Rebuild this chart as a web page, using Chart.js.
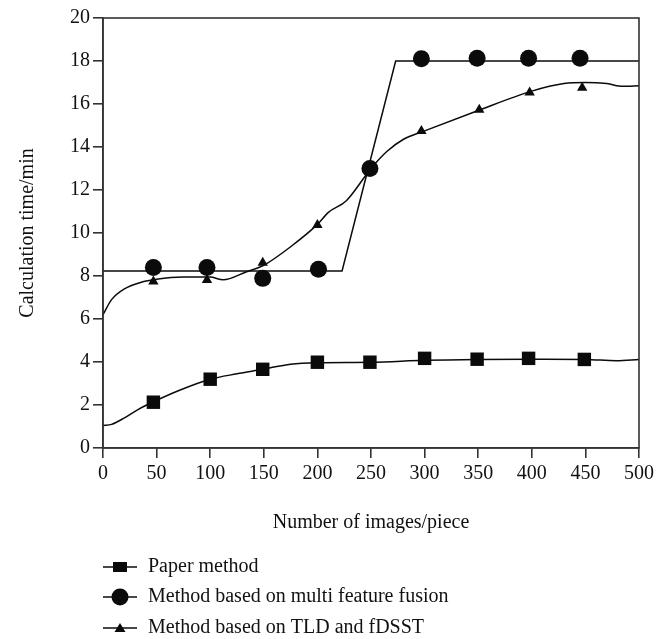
<!DOCTYPE html>
<html>
<head>
<meta charset="utf-8">
<script src="https://cdn.jsdelivr.net/npm/chart.js@4.4.1/dist/chart.umd.min.js"></script>
<style>
  body { margin: 0; background: #fff; }
</style>
</head>
<body>
<canvas id="chart" width="669" height="639"></canvas>
<script>
// tick values
const xTicks = [0, 50, 100, 150, 200, 250, 300, 350, 400, 450, 500];
const yTicks = [0, 2, 4, 6, 8, 10, 12, 14, 16, 18, 20];

const seriesNames = ['Paper method', 'Method based on multi feature fusion', 'Method based on TLD and fDSST'];

// Paper method: markers and fitted curve
const paperX = [47, 100, 149, 200, 249, 300, 349, 397, 449];
const paperY = [2.13, 3.2, 3.66, 3.99, 3.99, 4.17, 4.13, 4.17, 4.12];
const paperCurveX = [0, 8, 20, 33, 47, 72, 100, 125, 149, 175, 200, 250, 300, 350, 400, 450, 479, 500];
const paperCurveY = [1.05, 1.1, 1.4, 1.8, 2.15, 2.7, 3.2, 3.45, 3.66, 3.9, 3.97, 3.99, 4.08, 4.12, 4.13, 4.12, 4.06, 4.12];

// multi feature fusion: markers and polyline
const fusionX = [47, 97, 149, 201, 249, 297, 349, 397, 445];
const fusionY = [8.4, 8.4, 7.89, 8.31, 13.0, 18.1, 18.13, 18.13, 18.13];
const fusionLineX = [0, 223, 273, 500];
const fusionLineY = [8.23, 8.23, 18.0, 18.0];

// TLD and fDSST: markers and fitted curve
const tldX = [47, 97, 149, 200, 250, 297, 351, 398, 447];
const tldY = [7.74, 7.81, 8.62, 10.37, 13.0, 14.74, 15.73, 16.53, 16.76];
const tldCurveX = [0, 8, 20, 35, 50, 75, 100, 112, 134, 150, 175, 200, 210, 227, 250, 265, 280, 300, 350, 400, 430, 450, 470, 485, 500];
const tldCurveY = [6.2, 6.9, 7.4, 7.7, 7.85, 7.95, 7.95, 7.82, 8.2, 8.5, 9.36, 10.4, 10.95, 11.5, 13.0, 13.8, 14.35, 14.75, 15.7, 16.6, 16.95, 17.0, 16.95, 16.82, 16.85];

function pts(xs, ys) {
  return xs.map((x, i) => ({x: x, y: ys[i]}));
}

const ink = '#0b0b0b';
const axisColor = '#333';
const serif = '"Liberation Serif", "DejaVu Serif", serif';

// box round the plot
const frame = {
  id: 'frame',
  afterDraw(chart) {
    const a = chart.chartArea, ctx = chart.ctx;
    ctx.save();
    ctx.strokeStyle = axisColor;
    ctx.lineWidth = 1.6;
    ctx.strokeRect(a.left, a.top, a.right - a.left, a.bottom - a.top);
    ctx.restore();
  }
};

// legend stacked under the axis title
const stackLegend = {
  id: 'stackLegend',
  afterDraw(chart) {
    const ctx = chart.ctx;
    const x0 = chart.chartArea.left;
    const rowY = [567, 597, 628];
    ctx.save();
    ctx.font = '20px ' + serif;
    ctx.textBaseline = 'middle';
    seriesNames.forEach((name, i) => {
      const y = rowY[i];
      const cx = x0 + 17;
      ctx.strokeStyle = ink;
      ctx.lineWidth = 1.5;
      ctx.beginPath();
      ctx.moveTo(x0, y);
      ctx.lineTo(x0 + 34, y);
      ctx.stroke();
      ctx.fillStyle = ink;
      ctx.beginPath();
      if (i === 0) {
        ctx.rect(cx - 7, y - 5, 14, 10);
      } else if (i === 1) {
        ctx.arc(cx, y, 8.5, 0, Math.PI * 2);
      } else {
        ctx.moveTo(cx, y - 5);
        ctx.lineTo(cx + 5.5, y + 4);
        ctx.lineTo(cx - 5.5, y + 4);
        ctx.closePath();
      }
      ctx.fill();
      ctx.fillStyle = '#111';
      ctx.fillText(name, x0 + 45, y);
    });
    ctx.restore();
  }
};

new Chart(document.getElementById('chart'), {
  type: 'scatter',
  data: {
    datasets: [
      {
        label: seriesNames[1] + ' points',
        data: pts(fusionX, fusionY),
        pointStyle: 'circle',
        pointRadius: 8.5,
        pointBackgroundColor: ink,
        pointBorderWidth: 0,
        showLine: false,
        order: 1
      },
      {
        label: seriesNames[0] + ' points',
        data: pts(paperX, paperY),
        pointStyle: 'rect',
        pointRadius: 9.5,
        pointBackgroundColor: ink,
        pointBorderWidth: 0,
        showLine: false,
        order: 2
      },
      {
        label: seriesNames[2] + ' points',
        data: pts(tldX, tldY),
        pointStyle: 'triangle',
        pointRadius: 6,
        pointBackgroundColor: ink,
        pointBorderWidth: 0,
        showLine: false,
        order: 3
      },
      {
        label: seriesNames[1],
        data: pts(fusionLineX, fusionLineY),
        showLine: true,
        borderColor: ink,
        borderWidth: 1.5,
        pointRadius: 0,
        tension: 0,
        order: 4
      },
      {
        label: seriesNames[0],
        data: pts(paperCurveX, paperCurveY),
        showLine: true,
        borderColor: ink,
        borderWidth: 1.5,
        pointRadius: 0,
        cubicInterpolationMode: 'monotone',
        order: 5
      },
      {
        label: seriesNames[2],
        data: pts(tldCurveX, tldCurveY),
        showLine: true,
        borderColor: ink,
        borderWidth: 1.5,
        pointRadius: 0,
        cubicInterpolationMode: 'monotone',
        order: 6
      }
    ]
  },
  options: {
    responsive: false,
    animation: false,
    devicePixelRatio: 1,
    layout: {padding: {top: 18, right: 30, bottom: 104, left: 0}},
    plugins: {
      legend: {display: false},
      tooltip: {enabled: false}
    },
    scales: {
      x: {
        type: 'linear',
        min: 0,
        max: 500,
        afterBuildTicks: (s) => { s.ticks = xTicks.map(v => ({value: v})); },
        afterFit: (s) => { s.height = 87; },
        grid: {drawOnChartArea: false, drawTicks: true, tickLength: 10, color: axisColor, lineWidth: 1.6},
        border: {display: true, color: axisColor, width: 1.6},
        ticks: {color: '#111', font: {family: serif, size: 20}, padding: 4, maxRotation: 0},
        title: {display: true, text: 'Number of images/piece', color: '#111', font: {family: serif, size: 20}, padding: {top: 0, bottom: 0}}
      },
      y: {
        type: 'linear',
        min: 0,
        max: 20,
        afterBuildTicks: (s) => { s.ticks = yTicks.map(v => ({value: v})); },
        afterFit: (s) => { s.width = 103; },
        grid: {drawOnChartArea: false, drawTicks: true, tickLength: 10, color: axisColor, lineWidth: 1.6},
        border: {display: true, color: axisColor, width: 1.6},
        ticks: {color: '#111', font: {family: serif, size: 20}, padding: 3},
        title: {display: true, text: 'Calculation time/min', color: '#111', font: {family: serif, size: 20}, padding: {top: 16, bottom: 0}}
      }
    }
  },
  plugins: [frame, stackLegend]
});
</script>
</body>
</html>
